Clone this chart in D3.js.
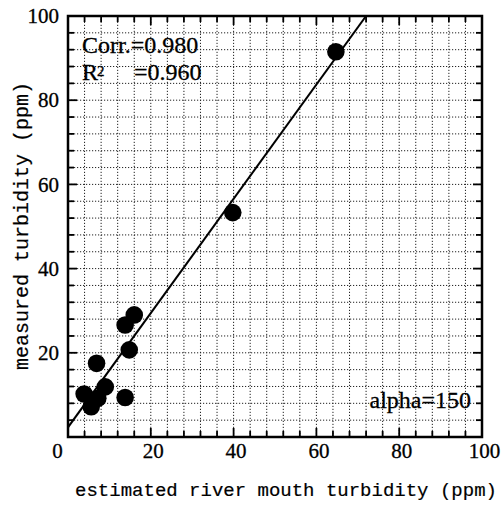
<!DOCTYPE html>
<html>
<head>
<meta charset="utf-8">
<script src="https://cdn.jsdelivr.net/npm/d3@7"></script>
<style>
  body { margin: 0; background: #fff; }
  svg { display: block; }
</style>
</head>
<body>
<svg id="chart"></svg>
<script>
// measured vs estimated turbidity points
const estimated = [64.7, 39.8, 16.0, 13.8, 14.8, 6.9, 9.0, 13.8, 3.9, 5.6, 7.2];
const measured  = [91.5, 53.3, 29.0, 26.6, 20.7, 17.5, 11.9, 9.4, 10.2, 7.2, 9.2];

// regression line end points
const lineX = [0, 72];
const lineY = [2.3, 100];

const majorTicks = [0, 20, 40, 60, 80, 100];
const minorTicks = d3.range(0, 101, 4);
const gridVals = d3.range(4, 100, 4);

const width = 503, height = 505;
const margin = { top: 16, right: 21, bottom: 68, left: 68 };

const svg = d3.select("#chart")
  .attr("width", width)
  .attr("height", height);

const x = d3.scaleLinear().domain([0, 100]).range([margin.left, width - margin.right]);
const y = d3.scaleLinear().domain([0, 100]).range([height - margin.bottom, margin.top]);

const x0 = x(0), x1 = x(100), y0 = y(0), y1 = y(100);

// dotted grid
const grid = svg.append("g")
  .attr("stroke", "#222")
  .attr("stroke-width", 1)
  .attr("stroke-dasharray", "1.2,1.8");
grid.selectAll(".gx").data(gridVals).join("line").attr("class", "gx")
  .attr("x1", d => x(d)).attr("x2", d => x(d))
  .attr("y1", y0).attr("y2", y1);
grid.selectAll(".gy").data(gridVals).join("line").attr("class", "gy")
  .attr("y1", d => y(d)).attr("y2", d => y(d))
  .attr("x1", x0).attr("x2", x1);

// inward ticks on all four sides
function tickSize(d) { return d % 20 === 0 ? 9 : 6; }
const ticks = svg.append("g").attr("stroke", "#000").attr("stroke-width", 1.8);
ticks.selectAll(".tb").data(minorTicks).join("line").attr("class", "tb")
  .attr("x1", d => x(d)).attr("x2", d => x(d))
  .attr("y1", y0).attr("y2", d => y0 - tickSize(d));
ticks.selectAll(".tt").data(minorTicks).join("line").attr("class", "tt")
  .attr("x1", d => x(d)).attr("x2", d => x(d))
  .attr("y1", y1).attr("y2", d => y1 + tickSize(d));
ticks.selectAll(".tl").data(minorTicks).join("line").attr("class", "tl")
  .attr("y1", d => y(d)).attr("y2", d => y(d))
  .attr("x1", x0).attr("x2", d => x0 + tickSize(d));
ticks.selectAll(".tr").data(minorTicks).join("line").attr("class", "tr")
  .attr("y1", d => y(d)).attr("y2", d => y(d))
  .attr("x1", x1).attr("x2", d => x1 - tickSize(d));

// tick labels
const xLab = svg.append("g")
  .attr("transform", `translate(0,${y0})`)
  .call(d3.axisBottom(x).tickValues(majorTicks).tickSize(0).tickPadding(0));
xLab.select(".domain").remove();
xLab.selectAll("text")
  .attr("y", 21).attr("dy", null)
  .attr("font-family", "'Liberation Serif', serif")
  .attr("font-size", "21px")
  .attr("fill", "#000")
  .attr("stroke", "#000").attr("stroke-width", 0.3)
  .attr("dx", d => d === 0 ? -11 : 2);

const yLab = svg.append("g")
  .attr("transform", `translate(${x0},0)`)
  .call(d3.axisLeft(y).tickValues(majorTicks.slice(1)).tickSize(0).tickPadding(9));
yLab.select(".domain").remove();
yLab.selectAll("text")
  .attr("font-family", "'Liberation Serif', serif")
  .attr("font-size", "21px")
  .attr("fill", "#000")
  .attr("stroke", "#000").attr("stroke-width", 0.3);

// regression line
svg.append("clipPath").attr("id", "clip")
  .append("rect").attr("x", x0).attr("y", y1).attr("width", x1 - x0).attr("height", y0 - y1);
svg.append("line")
  .attr("clip-path", "url(#clip)")
  .attr("x1", x(lineX[0])).attr("y1", y(lineY[0]))
  .attr("x2", x(lineX[1])).attr("y2", y(lineY[1]))
  .attr("stroke", "#000")
  .attr("stroke-width", 2);

// points
svg.append("g").selectAll("circle")
  .data(estimated)
  .join("circle")
  .attr("cx", d => x(d))
  .attr("cy", (d, i) => y(measured[i]))
  .attr("r", 8.8)
  .attr("fill", "#000");

// frame
svg.append("rect")
  .attr("x", x0).attr("y", y1)
  .attr("width", x1 - x0).attr("height", y0 - y1)
  .attr("fill", "none")
  .attr("stroke", "#000")
  .attr("stroke-width", 2.5);

// annotations
const ann = svg.append("g")
  .attr("font-family", "'Liberation Serif', serif")
  .attr("font-size", "24px")
  .attr("fill", "#000")
  .attr("stroke", "#000")
  .attr("stroke-width", 0.3);
ann.append("text").attr("x", 82).attr("y", 53).text("Corr.=0.980");
ann.append("text").attr("x", 82).attr("y", 80).text("R");
ann.append("text").attr("x", 97).attr("y", 76).attr("font-size", "15px").text("2");
ann.append("text").attr("x", 134).attr("y", 80).text("=0.960");
ann.append("text").attr("x", 471).attr("y", 408).attr("text-anchor", "end").text("alpha=150");

// axis titles
svg.append("text")
  .attr("x", 286).attr("y", 496)
  .attr("text-anchor", "middle")
  .attr("font-family", "'Liberation Mono', monospace")
  .attr("font-size", "19px")
  .attr("fill", "#000")
  .attr("stroke", "#000").attr("stroke-width", 0.2)
  .text("estimated river mouth turbidity (ppm)");

svg.append("text")
  .attr("transform", "translate(28,226) rotate(-90)")
  .attr("text-anchor", "middle")
  .attr("font-family", "'Liberation Mono', monospace")
  .attr("font-size", "20px")
  .attr("fill", "#000")
  .attr("stroke", "#000").attr("stroke-width", 0.2)
  .text("measured turbidity (ppm)");
</script>
</body>
</html>
